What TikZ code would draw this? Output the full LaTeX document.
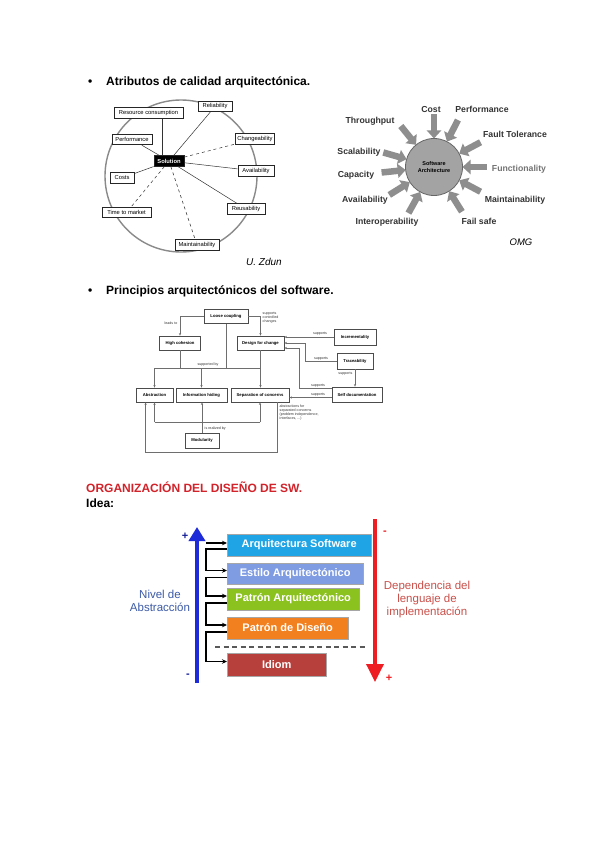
\documentclass[tikz,border=0pt]{standalone}
\usepackage{fontspec}
\setmainfont{Liberation Sans}
\usepackage{tikz}
\usetikzlibrary{arrows.meta,positioning,calc}
\definecolor{sunGray}{HTML}{A3A3A3}
\definecolor{arrowGray}{HTML}{8E8E8E}
\definecolor{ringGray}{HTML}{8A8A8A}
\definecolor{lineGray}{HTML}{6E6E6E}
\definecolor{headRed}{HTML}{D2232A}
\definecolor{orgBlue}{HTML}{1E2BD8}
\definecolor{orgRed}{HTML}{EE1D23}
\definecolor{boxSky}{HTML}{1FA5E6}
\definecolor{boxLav}{HTML}{7F9CE3}
\definecolor{boxLime}{HTML}{8CC220}
\definecolor{boxOrange}{HTML}{F2801E}
\definecolor{boxBrick}{HTML}{B8403C}
\definecolor{txtBlue}{HTML}{3C5AA6}
\definecolor{txtRed}{HTML}{C9504A}

\begin{document}
\begin{tikzpicture}[x=1pt, y=-1pt, >=Stealth,
  heading/.style={font=\bfseries\fontsize{12}{14}\selectfont, anchor=base west, inner sep=0},
  qbox/.style={draw=black!85, line width=0.9pt, fill=white, font=\fontsize{5.8}{6}\selectfont, inner xsep=2pt, inner ysep=0pt, minimum height=10.5pt},
  qline/.style={black!80, line width=0.5pt},
  sunlbl/.style={font=\bfseries\fontsize{8.7}{10}\selectfont, text=black!80, inner sep=0},
  fat/.style={arrowGray, line width=6.5pt, -{Triangle[width=14pt,length=8pt]}},
  pbox/.style={draw=black!70, line width=0.8pt, fill=white, font=\bfseries\fontsize{4.2}{5}\selectfont, minimum height=14pt, inner sep=1pt},
  plink/.style={lineGray, line width=0.6pt},
  parr/.style={plink, -{Stealth[length=2.5pt,width=2.2pt]}},
  ptag/.style={font=\fontsize{3.6}{4}\selectfont, inner sep=0.5pt, text=black!80},
  orgbox/.style={anchor=west, draw=black!35, fill=#1, text=white, font=\bfseries\fontsize{11}{12}\selectfont, minimum height=22pt, inner sep=0},
  orgarr/.style={line width=1.3pt, -{Stealth[length=5pt,width=4.5pt]}},
  sign/.style={font=\bfseries\fontsize{11}{11}\selectfont, inner sep=0}
]
\fill[white] (0,0) rectangle (599,848);
\useasboundingbox (0,0) rectangle (599,848);

\node[heading] (dot1) at (88,85.5) {\textbullet};
\node[heading] (h1) at (106,85.5) {Atributos de calidad arquitectónica.};
\node[heading] (dot2) at (88,294.5) {\textbullet};
\node[heading] (h2) at (106,294.5) {Principios arquitectónicos del software.};
\node[heading, text=headRed] (h3) at (86,492) {ORGANIZACIÓN DEL DISEÑO DE SW.};
\node[heading] (h4) at (86,507) {Idea:};

\draw[ringGray, line width=1.4pt] (181,176) circle[radius=76];
\node[qbox, minimum width=34pt] (rel) at (215,106.5) {Reliability};
\node[qbox, minimum width=69pt] (res) at (148.5,113) {Resource consumption};
\node[qbox, minimum width=40pt] (per) at (132,139.5) {Performance};
\node[qbox, minimum width=38pt] (chg) at (255,139) {Changeability};
\node[qbox, minimum width=36pt] (ava) at (256,171) {Availability};
\node[qbox, minimum width=24pt] (cos) at (122,178) {Costs};
\node[qbox, minimum width=38pt] (reu) at (246,209) {Reusability};
\node[qbox, minimum width=49pt] (ttm) at (126.5,212.5) {Time to market};
\node[qbox, minimum width=44pt] (mai) at (197,245) {Maintainability};
\node[qbox, fill=black, text=white, font=\bfseries\fontsize{5.8}{6}\selectfont, minimum width=30pt] (sol) at (169,161) {Solution};
\foreach \n in {rel,ava,reu,cos,per}
  \draw[qline] (sol) -- (\n);
\foreach \n in {chg,ttm,mai}
  \draw[qline, dashed] (sol) -- (\n);
\draw[qline] (sol.north west) ++(9,0) coordinate (s0) -- (s0 |- res.south);
\node[font=\itshape\fontsize{10}{11}\selectfont] (zdun) at (264,262) {U. Zdun};

\node[circle, draw=black!60, line width=0.8pt, fill=sunGray, minimum size=57pt, inner sep=0, outer sep=0, align=center, font=\bfseries\fontsize{5.5}{6.5}\selectfont] (arch) at (434,167) {Software\\Architecture};
\foreach \a in {90,63,28,0,332,302,241,212,186,164,129}
  \draw[fat] ($(arch.center)!1.85!(arch.\a)$) -- (arch.\a);
\node[sunlbl] (cost) at (431,110) {Cost};
\node[sunlbl] (perf) at (482,109) {Performance};
\node[sunlbl] (thr) at (370,121) {Throughput};
\node[sunlbl] (fault) at (515,134) {Fault Tolerance};
\node[sunlbl] (scal) at (359,152) {Scalability};
\node[sunlbl, text=black!55] (func) at (519,169) {Functionality};
\node[sunlbl] (cap) at (356,175) {Capacity};
\node[sunlbl] (main) at (515,200) {Maintainability};
\node[sunlbl] (avail) at (365,200) {Availability};
\node[sunlbl] (inter) at (387,222) {Interoperability};
\node[sunlbl] (fail) at (479,221) {Fail safe};
\node[font=\itshape\fontsize{9.5}{11}\selectfont] (omg) at (521,242) {OMG};

\node[pbox, minimum width=44pt] (lc) at (226,316.5) {Loose coupling};
\node[pbox, minimum width=41pt] (hc) at (180,343) {High cohesion};
\node[pbox, minimum width=47pt] (dfc) at (260.5,343) {Design for change};
\node[pbox, minimum width=37pt] (abs) at (154.5,395) {Abstraction};
\node[pbox, minimum width=51pt] (inf) at (201.5,395) {Information hiding};
\node[pbox, minimum width=58pt] (sep) at (260,395) {Separation of concerns};
\node[pbox, minimum width=34pt, minimum height=15pt] (mod) at (202,440.5) {Modularity};
\node[pbox, minimum width=42pt, minimum height=16pt] (inc) at (355,337) {Incrementality};
\node[pbox, minimum width=36pt, minimum height=16pt] (tra) at (355,361) {Traceability};
\node[pbox, minimum width=50pt, minimum height=15pt] (sd) at (357,394.5) {Self documentation};
\draw[parr] (lc.west) -| (hc.north);
\draw[parr] (lc.east) -| (dfc.north);
\node[ptag, anchor=east] (t1) at (178,323) {leads to};
\node[ptag, anchor=west, align=left] (t2) at (262,318) {supports\\controlled\\changes};
\coordinate (busL) at (abs.north |- 0,368);
\draw[plink] (busL) -- (dfc.south |- busL);
\draw[plink] (lc.south) -- (lc.south |- busL);
\draw[plink] (hc.south) -- (hc.south |- busL);
\draw[parr] (busL) -- (abs.north);
\draw[parr] (inf.north |- busL) -- (inf.north);
\draw[parr] (dfc.south) -- (dfc.south |- sep.north);
\node[ptag] (t3) at (208,364.5) {supported by};
\draw[parr] (inc.west) -- (inc.west -| dfc.east);
\draw[parr] (tra.west) -| ($(dfc.east)+(21,0)$) -- (dfc.east);
\draw[parr] ($(sd.west)+(0,-6)$) -| ($(dfc.east)+(15,5)$) -- ($(dfc.east)+(0,5)$);
\draw[parr] ($(sd.west)+(0,3)$) coordinate (sdl) -- (sdl -| sep.east);
\draw[parr] (tra.south) -- (tra.south |- sd.north);
\node[ptag] (t4) at (320,334) {supports};
\node[ptag] (t5) at (321,358.5) {supports};
\node[ptag] (t6) at (318,385.5) {supports};
\node[ptag] (t7) at (318,394.5) {supports};
\node[ptag, anchor=east] (t8) at (353,374) {supports};
\draw[parr] (mod.north) -- (mod.north |- inf.south);
\coordinate (busM) at (abs.south |- 0,422);
\draw[plink] (busM) -- (sep.south |- busM);
\draw[parr] (busM) -- (abs.south);
\draw[parr] (sep.south |- busM) -- (sep.south);
\node[ptag, anchor=west] (t9) at (204,429) {is realized by};
\draw[parr] ($(sep.south east)+(-12,0)$) |- ($(abs.south west)+(10,50)$) -- ($(abs.south west)+(10,0)$);
\node[ptag, anchor=north west, align=left] (t10) at (279,404) {abstractions for\\separated concerns\\(problem independence,\\interfaces, ...)};

\node[orgbox=boxSky, minimum width=144pt] (arq) at (227,545) {Arquitectura Software};
\node[orgbox=boxLav, minimum width=136pt, minimum height=21pt] (est) at (227,573.5) {Estilo Arquitectónico};
\node[orgbox=boxLime, minimum width=132pt] (pat) at (227,599) {Patrón Arquitectónico};
\node[orgbox=boxOrange, minimum width=121pt] (dis) at (227,628) {Patrón de Diseño};
\node[orgbox=boxBrick, minimum width=99pt, minimum height=23pt] (idi) at (227,664.5) {Idiom};
\coordinate (top) at ($(arq.west)+(-21,-2)$);
\draw[orgarr] (top) -- ($(arq.west)+(0,-2)$);
\foreach \a/\b in {arq/est,est/pat,pat/dis,dis/idi}
  \draw[orgarr] ($(\a.west)+(0,4)$) -| ($(\b.west)+(-21,-3)$) -- ($(\b.west)+(0,-3)$);
\coordinate (dashL) at (215,647);
\coordinate (dashR) at (367,647);
\draw[black!65, line width=1.8pt, dash pattern=on 5pt off 3.5pt] (dashL) -- (dashR);
\coordinate (abB) at (197,683);
\coordinate (abT) at (197,527);
\draw[orgBlue, line width=4pt, -{Triangle[width=16pt,length=14pt]}] (abB) -- (abT);
\coordinate (rdT) at (375,519);
\coordinate (rdB) at (375,682);
\draw[orgRed, line width=3.5pt, -{Triangle[width=17pt,length=18pt]}] (rdT) -- (rdB);
\node[sign, text=orgBlue!70!black] (pB) at (185,536) {+};
\node[sign, text=orgBlue!70!black] (mB) at (188,676) {-};
\node[sign, text=orgRed] (mR) at (385,533) {-};
\node[sign, text=orgRed] (pR) at (389,678) {+};
\node[align=center, text=txtBlue, font=\fontsize{11.5}{13}\selectfont] (niv) at (160,601) {Nivel de\\Abstracción};
\node[align=center, text=txtRed, font=\fontsize{11.5}{13}\selectfont] (dep) at (427,600) {Dependencia del\\lenguaje de\\implementación};
\end{tikzpicture}
\end{document}
